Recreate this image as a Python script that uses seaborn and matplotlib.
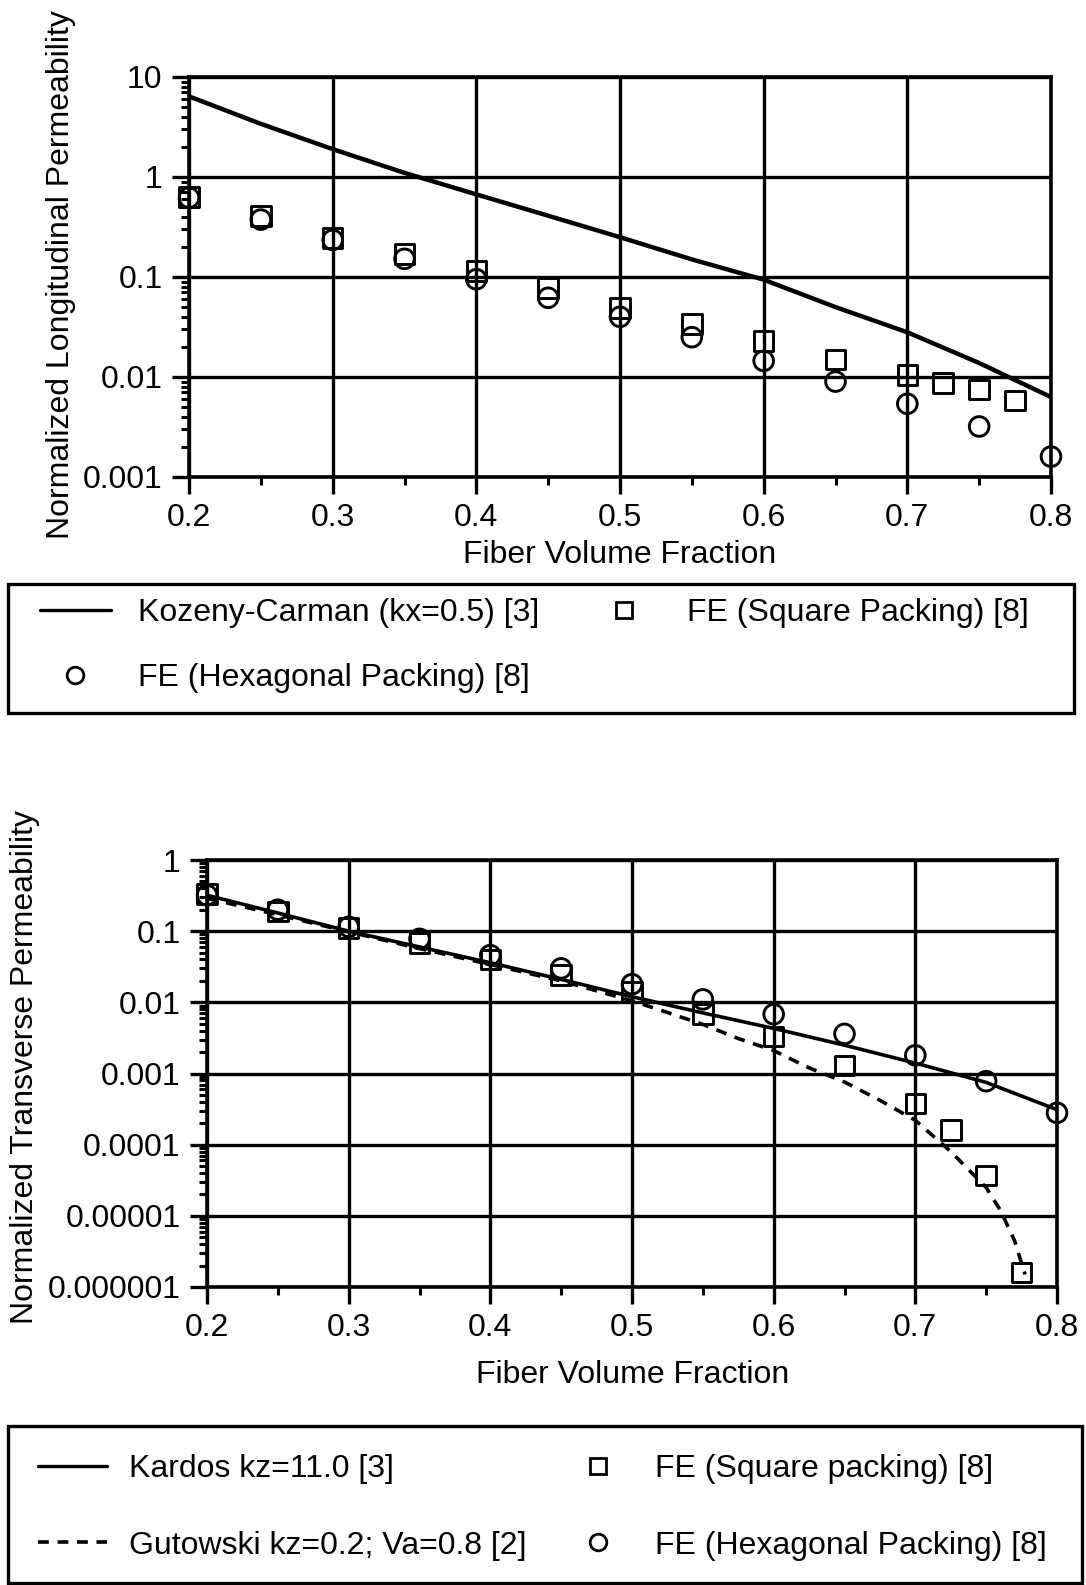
import numpy as np
import pandas as pd
import matplotlib
matplotlib.use("Agg")
import matplotlib.pyplot as plt
import seaborn as sns
from matplotlib.lines import Line2D
from matplotlib.patches import Rectangle
from matplotlib.ticker import MultipleLocator, LogLocator, NullFormatter

# ---------------- data ----------------
x_ticks = [0.2, 0.3, 0.4, 0.5, 0.6, 0.7, 0.8]
x_tick_labels = ["0.2", "0.3", "0.4", "0.5", "0.6", "0.7", "0.8"]

# top panel: longitudinal permeability
top_y_ticks = [0.001, 0.01, 0.1, 1, 10]
top_y_tick_labels = ["0.001", "0.01", "0.1", "1", "10"]

kc_x = [0.2, 0.25, 0.3, 0.35, 0.4, 0.45, 0.5, 0.55, 0.6, 0.65, 0.7, 0.75, 0.8]
kc_y = [6.4, 3.4, 1.9, 1.1, 0.67, 0.41, 0.25, 0.15, 0.094, 0.05, 0.028, 0.0138, 0.0063]

sqL_x = [0.2, 0.25, 0.3, 0.35, 0.4, 0.45, 0.5, 0.55, 0.6, 0.65, 0.7, 0.725, 0.75, 0.775]
sqL_y = [0.63, 0.41, 0.245, 0.17, 0.115, 0.078, 0.049, 0.034, 0.023, 0.015, 0.0105, 0.0087, 0.0075, 0.0058]

hxL_x = [0.2, 0.25, 0.3, 0.35, 0.4, 0.45, 0.5, 0.55, 0.6, 0.65, 0.7, 0.75, 0.8]
hxL_y = [0.62, 0.375, 0.235, 0.152, 0.095, 0.062, 0.04, 0.025, 0.0145, 0.009, 0.0054, 0.0032, 0.0016]

# bottom panel: transverse permeability
bot_y_ticks = [1e-6, 1e-5, 1e-4, 1e-3, 1e-2, 1e-1, 1]
bot_y_tick_labels = ["0.000001", "0.00001", "0.0001", "0.001", "0.01", "0.1", "1"]

kardos_x = [0.2, 0.25, 0.3, 0.35, 0.4, 0.45, 0.5, 0.55, 0.6, 0.65, 0.7, 0.75, 0.8]
kardos_y = [0.32, 0.18, 0.1, 0.06, 0.036, 0.021, 0.012, 0.0071, 0.0043, 0.0025, 0.0014, 0.00075, 0.00031]

gut_x = [0.2, 0.25, 0.3, 0.35, 0.4, 0.45, 0.5, 0.525, 0.55, 0.575, 0.6, 0.625, 0.65,
         0.675, 0.7, 0.725, 0.75, 0.76, 0.77, 0.7775]
gut_y = [0.29, 0.17, 0.098, 0.057, 0.034, 0.02, 0.0105, 0.0072, 0.0049, 0.0031, 0.0021,
         0.0012, 0.00076, 0.00042, 0.00022, 0.00008, 0.000025, 0.000012, 0.0000045, 0.0000015]

sqT_x = [0.2, 0.25, 0.3, 0.35, 0.4, 0.45, 0.5, 0.55, 0.6, 0.65, 0.7, 0.725, 0.75, 0.775]
sqT_y = [0.33, 0.19, 0.11, 0.068, 0.04, 0.024, 0.014, 0.0068, 0.0033, 0.0013, 0.00038,
         0.00016, 0.000037, 0.0000016]

hxT_x = [0.2, 0.25, 0.3, 0.35, 0.4, 0.45, 0.5, 0.55, 0.6, 0.65, 0.7, 0.75, 0.8]
hxT_y = [0.32, 0.2, 0.115, 0.078, 0.046, 0.03, 0.018, 0.011, 0.0068, 0.0036, 0.0018, 0.00078, 0.00028]

# ---------------- style ----------------
sns.set_theme(style="ticks")
plt.rcParams['font.family'] = ['Liberation Sans', 'DejaVu Sans']
plt.rcParams['text.color'] = 'black'
plt.rcParams['axes.labelcolor'] = 'black'
FS = 23

W, H = 1086, 1585
fig = plt.figure(figsize=(W / 100, H / 100), dpi=100)
fig.patch.set_facecolor('white')


def px_axes(l, t, r, b):
    return fig.add_axes([l / W, 1 - b / H, (r - l) / W, (b - t) / H])


ax1 = px_axes(189, 77, 1051, 477)
ax2 = px_axes(207, 860, 1057, 1287)

MS = 200
MEW = 2.1


def scatter(ax, x, y, marker):
    sns.scatterplot(x=x, y=y, ax=ax, marker=marker, s=MS, facecolor='none',
                    edgecolor='black', linewidth=MEW, clip_on=False, zorder=4)


# top panel
sns.lineplot(x=kc_x, y=kc_y, ax=ax1, color='black', linewidth=3.2, estimator=None, zorder=3)
scatter(ax1, sqL_x, sqL_y, 's')
scatter(ax1, hxL_x, hxL_y, 'o')

# bottom panel
sns.lineplot(x=kardos_x, y=kardos_y, ax=ax2, color='black', linewidth=2.6, estimator=None, zorder=3)
sns.lineplot(x=gut_x, y=gut_y, ax=ax2, color='black', linewidth=2.6, estimator=None,
             linestyle=(0, (3, 2.4)), zorder=3)
scatter(ax2, sqT_x, sqT_y, 's')
scatter(ax2, hxT_x, hxT_y, 'o')


def style(ax, yticks, ylabels):
    ax.set_yscale('log')
    ax.set_xlim(0.2, 0.8)
    ax.set_ylim(yticks[0], yticks[-1])
    ax.set_xticks(x_ticks)
    ax.set_xticklabels(x_tick_labels)
    ax.xaxis.set_minor_locator(MultipleLocator(0.05))
    ax.set_yticks(yticks)
    ax.set_yticklabels(ylabels)
    ax.yaxis.set_minor_locator(LogLocator(base=10, subs=np.arange(2, 10), numticks=50))
    ax.yaxis.set_minor_formatter(NullFormatter())
    ax.grid(True, which='major', color='black', linewidth=2.4)
    ax.grid(False, which='minor')
    ax.tick_params(which='major', length=12, width=2.4, pad=7, labelsize=FS,
                   colors='black', direction='out')
    ax.tick_params(which='minor', length=6, width=2.2, colors='black', direction='out')
    for s in ax.spines.values():
        s.set_color('black')
        s.set_linewidth(2.6)
    ax.set_facecolor('white')


style(ax1, top_y_ticks, top_y_tick_labels)
style(ax2, bot_y_ticks, bot_y_tick_labels)

ax1.set_xlabel("Fiber Volume Fraction", fontsize=FS)
ax1.xaxis.set_label_coords(0.499, -0.158)
ax1.set_ylabel("Normalized Longitudinal Permeability", fontsize=FS)
ax1.yaxis.set_label_coords((76 - 189) / 862, 0.506)

ax2.set_xlabel("Fiber Volume Fraction", fontsize=FS)
ax2.xaxis.set_label_coords(0.501, -0.171)
ax2.set_ylabel("Normalized Transverse Permeability", fontsize=FS)
ax2.yaxis.set_label_coords((40 - 207) / 850, 0.515)

# ---------------- legends ----------------
h_line = Line2D([], [], color='black', linewidth=2.4)
h_dash = Line2D([], [], color='black', linewidth=2.6, linestyle=(0, (3, 2.4)))
h_sq = Line2D([], [], marker='s', linestyle='none', markersize=12,
              markerfacecolor='none', markeredgecolor='black', markeredgewidth=2.0)
h_hx = Line2D([], [], marker='o', linestyle='none', markersize=12,
              markerfacecolor='none', markeredgecolor='black', markeredgewidth=2.0)

fig.legend([h_line, h_hx, h_sq],
           ["Kozeny-Carman (kx=0.5) [3]", "FE (Hexagonal Packing) [8]", "FE (Square Packing) [8]"],
           loc='upper left', bbox_to_anchor=(40 / W, 1 - 598 / H), bbox_transform=fig.transFigure,
           frameon=False, borderpad=0, borderaxespad=0, fontsize=FS, ncol=2,
           handlelength=2.22, handletextpad=0.85, columnspacing=1.55, labelspacing=1.1)

fig.legend([h_line, h_dash, h_sq, h_hx],
           ["Kardos kz=11.0 [3]", "Gutowski kz=0.2; Va=0.8 [2]",
            "FE (Square packing) [8]", "FE (Hexagonal Packing) [8]"],
           loc='upper left', bbox_to_anchor=(38 / W, 1 - 1454 / H), bbox_transform=fig.transFigure,
           frameon=False, borderpad=0, borderaxespad=0, fontsize=FS, ncol=2,
           handlelength=2.16, handletextpad=0.7, columnspacing=1.14, labelspacing=1.46)

for (l, t, r, b) in [(8, 584, 1074, 713), (8, 1426, 1082, 1583)]:
    fig.add_artist(Rectangle((l / W, 1 - b / H), (r - l) / W, (b - t) / H,
                             transform=fig.transFigure, fill=False,
                             edgecolor='black', linewidth=2.4))

fig.savefig("out.png", dpi=100, facecolor='white')
